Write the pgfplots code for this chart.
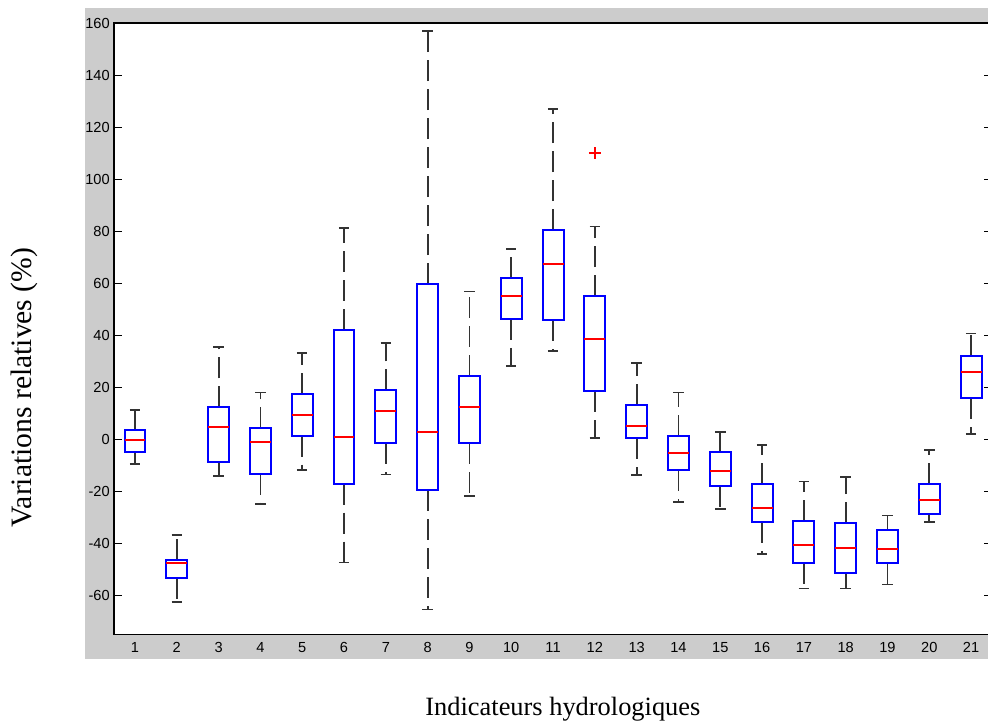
\documentclass[border=0pt]{standalone}
\usepackage{fontspec}
\setmainfont{Liberation Serif}
\newfontfamily\tickfont{Liberation Sans}
\usepackage{pgfplots}
\usepgfplotslibrary{statistics}
\pgfplotsset{compat=1.18}
\definecolor{bggray}{RGB}{204,204,204}
\definecolor{mblue}{RGB}{0,0,255}
\definecolor{mred}{RGB}{255,0,0}
\begin{document}
\begin{tikzpicture}
% grey figure frame behind the axes
\fill[bggray] (-14.55pt,-12.25pt) rectangle (445pt,313.25pt);
\begin{axis}[
  at={(0,0)}, anchor=south west,
  scale only axis,
  width=438.95pt, height=305.75pt,
  xmin=0.5, xmax=21.5,
  ymin=-75, ymax=160,
  axis background/.style={fill=white},
  axis line style={line width=0.6pt},
  xtick={1,...,21},
  ytick={-60,-40,...,160},
  x tick style={draw=none},
  y tick style={line width=0.5pt, black},
  tick align=inside,
  major tick length=4pt,
  ytick pos=both,
  xtick pos=bottom,
  tick label style={font=\tickfont\fontsize{7.3}{8}\selectfont},
  /pgf/number format/assume math mode=true,
  yticklabel style={inner sep=2pt},
  xticklabel style={inner sep=0pt, yshift=-3.75pt},
  boxplot/draw direction=y,
  boxplot/box extend=0.5,
  boxplot/whisker extend=0.25,
  boxplot/every box/.style={draw=mblue, line width=1pt},
  boxplot/every median/.style={draw=mred, line width=1pt},
  boxplot/every whisker/.style={draw=black!80, line width=0.9pt, dash pattern=on 10.5pt off 4pt},
]
\addplot[boxplot prepared={draw position=1, lower whisker=-9.5, lower quartile=-4.7, median=-0.4, upper quartile=3.7, upper whisker=11.3}] coordinates {};
\addplot[boxplot prepared={draw position=2, lower whisker=-62.4, lower quartile=-53.1, median=-47.7, upper quartile=-46.4, upper whisker=-36.8}] coordinates {};
\addplot[boxplot prepared={draw position=3, lower whisker=-14.2, lower quartile=-8.6, median=4.7, upper quartile=12.3, upper whisker=35.5}] coordinates {};
\addplot[boxplot prepared={draw position=4, lower whisker=-25, lower quartile=-13.2, median=-0.9, upper quartile=4.2, upper whisker=18}] coordinates {};
\addplot[boxplot prepared={draw position=5, lower whisker=-11.7, lower quartile=1.4, median=9.5, upper quartile=17.6, upper whisker=33.1}] coordinates {};
\addplot[boxplot prepared={draw position=6, lower whisker=-47.3, lower quartile=-17, median=0.9, upper quartile=42.2, upper whisker=81.2}] coordinates {};
\addplot[boxplot prepared={draw position=7, lower whisker=-13.5, lower quartile=-1.5, median=10.8, upper quartile=18.8, upper whisker=37}] coordinates {};
\addplot[boxplot prepared={draw position=8, lower whisker=-65.4, lower quartile=-19.5, median=2.7, upper quartile=59.6, upper whisker=157}] coordinates {};
\addplot[boxplot prepared={draw position=9, lower whisker=-21.8, lower quartile=-1.5, median=12.3, upper quartile=24.5, upper whisker=56.8}] coordinates {};
\addplot[boxplot prepared={draw position=10, lower whisker=28.3, lower quartile=46.3, median=54.9, upper quartile=62.1, upper whisker=73.3}] coordinates {};
\addplot[boxplot prepared={draw position=11, lower whisker=34, lower quartile=45.8, median=67.2, upper quartile=80.4, upper whisker=126.8}] coordinates {};
\addplot[boxplot prepared={draw position=12, lower whisker=0.5, lower quartile=18.5, median=38.7, upper quartile=55, upper whisker=81.8}] coordinates {};
\addplot[boxplot prepared={draw position=13, lower whisker=-13.7, lower quartile=0.5, median=5.1, upper quartile=13.2, upper whisker=29.3}] coordinates {};
\addplot[boxplot prepared={draw position=14, lower whisker=-24.1, lower quartile=-11.9, median=-5.3, upper quartile=1.4, upper whisker=18}] coordinates {};
\addplot[boxplot prepared={draw position=15, lower whisker=-26.9, lower quartile=-18, median=-12.3, upper quartile=-4.7, upper whisker=2.7}] coordinates {};
\addplot[boxplot prepared={draw position=16, lower whisker=-44, lower quartile=-31.7, median=-26.5, upper quartile=-17, upper whisker=-2.3}] coordinates {};
\addplot[boxplot prepared={draw position=17, lower whisker=-57.3, lower quartile=-47.7, median=-40.6, upper quartile=-31.3, upper whisker=-16.2}] coordinates {};
\addplot[boxplot prepared={draw position=18, lower whisker=-57.3, lower quartile=-51.2, median=-41.7, upper quartile=-32.2, upper whisker=-14.6}] coordinates {};
\addplot[boxplot prepared={draw position=19, lower whisker=-55.8, lower quartile=-47.7, median=-42.2, upper quartile=-35, upper whisker=-29.3}] coordinates {};
\addplot[boxplot prepared={draw position=20, lower whisker=-31.8, lower quartile=-28.8, median=-23.2, upper quartile=-17, upper whisker=-4.2}] coordinates {};
\addplot[boxplot prepared={draw position=21, lower whisker=1.9, lower quartile=15.7, median=25.7, upper quartile=32.2, upper whisker=40.7}] coordinates {};
% outlier of indicator 12
\addplot[only marks, mark=+, mark size=3pt, draw=mred, line width=1pt] coordinates {(12,110)};
\end{axis}
\node[anchor=base] at (224.4pt,-40.25pt) {\fontsize{13.2}{15}\selectfont Indicateurs hydrologiques};
\node[anchor=base, rotate=90] at (-41.3pt,123.5pt) {\fontsize{14.8}{17}\selectfont Variations relatives (\%)};
\pgfresetboundingbox
\path (-57.05pt,-43.75pt) rectangle (436.95pt,317.25pt);
\end{tikzpicture}
\end{document}
